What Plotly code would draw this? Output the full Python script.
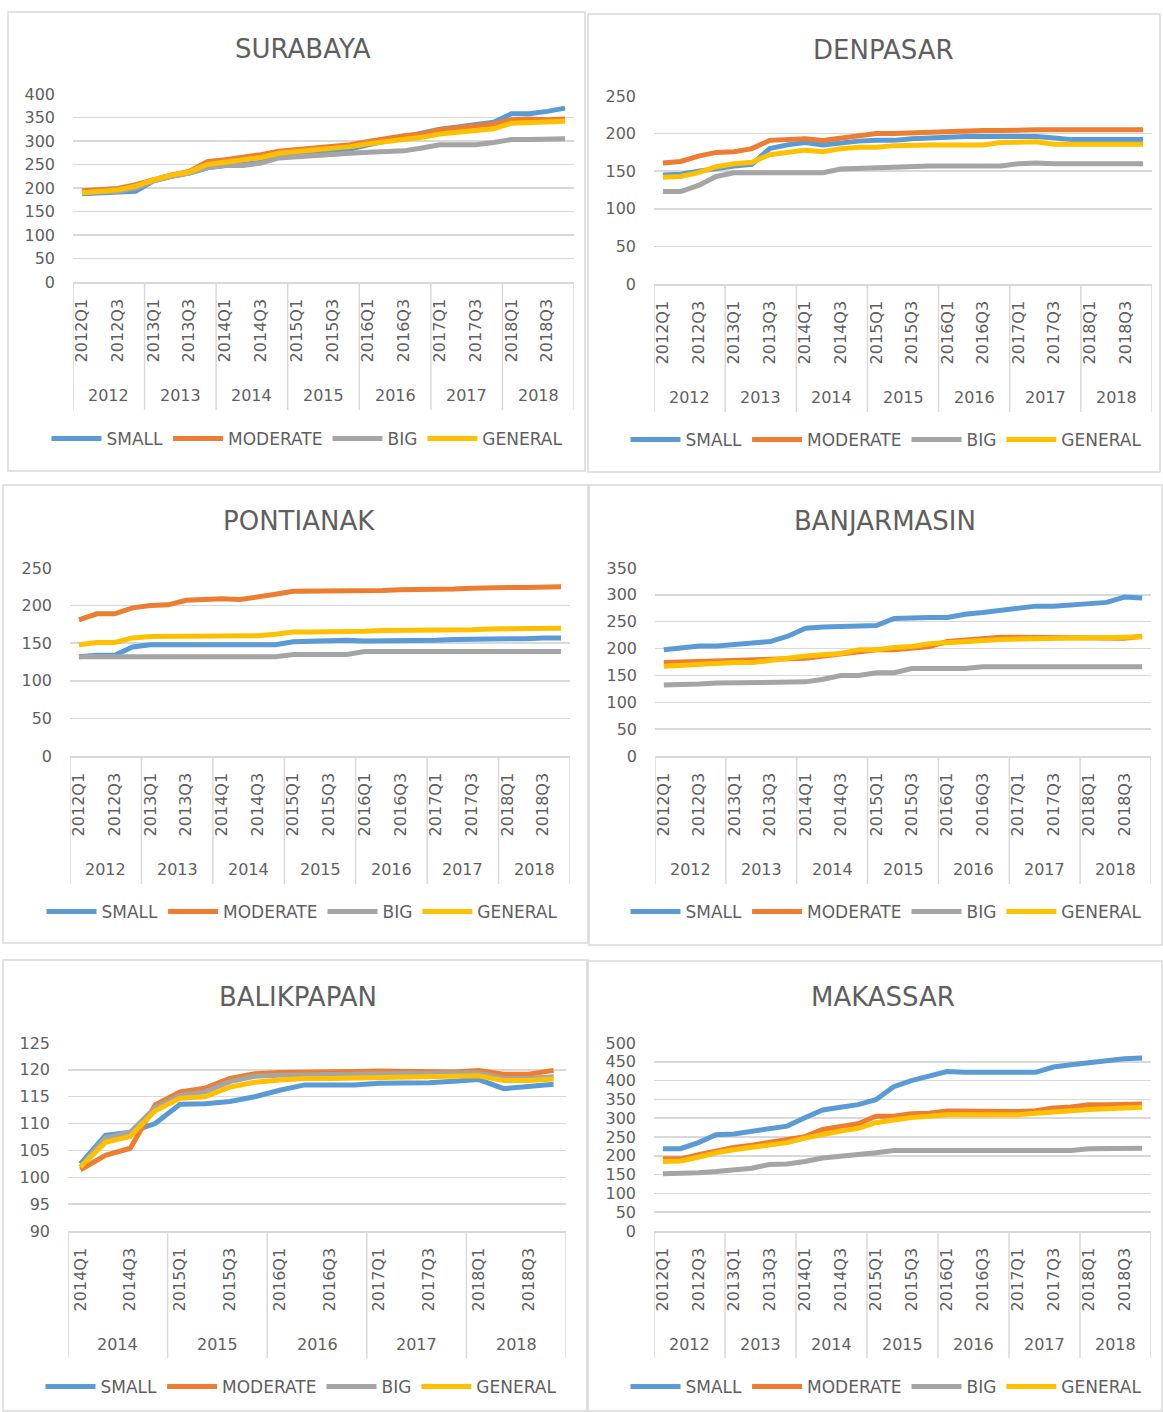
import plotly.graph_objects as go

# ---------------- data ----------------
SERIES = ["SMALL", "MODERATE", "BIG", "GENERAL"]
YEARS_FULL = ["2012", "2013", "2014", "2015", "2016", "2017", "2018"]
YEARS_BPN = ["2014", "2015", "2016", "2017", "2018"]
QUARTERS = ["Q1", "Q2", "Q3", "Q4"]

SURABAYA_SMALL = [188, 190, 190, 193, 215, 225, 232, 243, 248, 250, 255, 266, 270, 272, 278, 283, 292, 300, 307, 315, 325, 330, 336, 340, 358, 358, 363, 370]
SURABAYA_MODERATE = [194, 196, 199, 207, 218, 228, 235, 256, 260, 265, 271, 278, 281, 284, 289, 292, 299, 306, 311, 315, 324, 328, 333, 336, 345, 347, 345, 347]
SURABAYA_BIG = [190, 192, 193, 200, 215, 225, 232, 243, 248, 248, 253, 264, 267, 269, 272, 274, 276, 277, 279, 285, 292, 292, 292, 297, 303, 303, 303, 305]
SURABAYA_GENERAL = [190, 193, 196, 204, 217, 227, 234, 250, 255, 259, 265, 274, 277, 280, 284, 288, 294, 298, 303, 308, 315, 318, 323, 326, 338, 340, 340, 342]

DENPASAR_SMALL = [145, 146, 150, 154, 157, 159, 180, 185, 188, 185, 188, 190, 191, 191, 193, 194, 196, 196, 196, 196, 197, 196, 194, 192, 192, 192, 192, 192]
DENPASAR_MODERATE = [161, 163, 170, 175, 176, 180, 191, 192, 193, 191, 194, 198, 200, 200, 201, 202, 203, 203, 204, 204, 205, 205, 205, 205, 205, 204, 205, 205]
DENPASAR_BIG = [123, 123, 131, 143, 148, 148, 148, 148, 148, 148, 153, 154, 154, 156, 156, 157, 157, 157, 157, 157, 160, 161, 160, 160, 160, 160, 160, 160]
DENPASAR_GENERAL = [142, 143, 148, 156, 160, 162, 172, 175, 178, 176, 180, 182, 182, 184, 185, 185, 185, 185, 185, 188, 189, 189, 186, 186, 186, 186, 186, 186]

PONTIANAK_SMALL = [132, 134, 134, 145, 148, 148, 148, 148, 148, 148, 148, 148, 152, 153, 153, 154, 153, 153, 153, 153, 154, 155, 155, 156, 156, 156, 157, 157]
PONTIANAK_MODERATE = [181, 189, 189, 197, 200, 201, 207, 208, 209, 208, 211, 215, 219, 219, 219, 219, 219, 220, 221, 221, 222, 222, 223, 224, 224, 224, 224, 225]
PONTIANAK_BIG = [132, 132, 132, 132, 132, 132, 132, 132, 132, 132, 132, 132, 135, 135, 135, 135, 139, 139, 139, 139, 139, 139, 139, 139, 139, 139, 139, 139]
PONTIANAK_GENERAL = [148, 151, 151, 157, 159, 159, 160, 160, 160, 160, 160, 162, 165, 165, 165, 165, 166, 167, 167, 167, 168, 168, 168, 169, 169, 169, 170, 170]

BANJARMASIN_SMALL = [198, 201, 205, 205, 208, 210, 213, 223, 238, 240, 241, 242, 243, 256, 258, 258, 258, 264, 267, 271, 273, 279, 279, 281, 283, 286, 296, 294]
BANJARMASIN_MODERATE = [174, 175, 176, 178, 179, 180, 180, 180, 182, 186, 190, 192, 198, 198, 200, 204, 213, 216, 219, 221, 221, 221, 221, 221, 221, 220, 219, 223]
BANJARMASIN_BIG = [132, 132, 134, 136, 136, 136, 136, 136, 138, 143, 150, 150, 155, 155, 163, 163, 163, 163, 166, 166, 166, 166, 166, 166, 166, 166, 166, 166]
BANJARMASIN_GENERAL = [167, 169, 170, 172, 174, 174, 177, 182, 186, 189, 191, 198, 198, 202, 204, 209, 211, 215, 217, 217, 218, 219, 220, 220, 220, 220, 221, 222]

BALIKPAPAN_SMALL = [102.5, 107.8, 108.4, 110.0, 113.6, 113.7, 114.1, 115.0, 116.2, 117.2, 117.2, 117.2, 117.5, 117.5, 117.6, 117.9, 118.2, 116.5, 116.8, 117.3]
BALIKPAPAN_MODERATE = [101.4, 104.1, 105.4, 113.5, 115.9, 116.6, 118.4, 119.3, 119.5, 119.5, 119.6, 119.7, 119.8, 119.8, 119.8, 119.6, 119.9, 119.2, 119.2, 119.9]
BALIKPAPAN_BIG = [101.9, 107.3, 108.4, 113.0, 115.3, 115.9, 117.8, 118.8, 119.0, 119.1, 119.2, 119.3, 119.3, 119.3, 119.3, 119.4, 119.4, 118.4, 118.4, 118.7]
BALIKPAPAN_GENERAL = [101.9, 106.5, 107.6, 112.4, 114.7, 115.0, 116.8, 117.7, 118.1, 118.4, 118.4, 118.5, 118.6, 118.6, 118.7, 118.8, 118.9, 118.0, 118.0, 118.3]

MAKASSAR_SMALL = [219, 219, 235, 256, 258, 264, 272, 279, 301, 322, 329, 336, 349, 384, 400, 412, 424, 422, 421, 421, 422, 422, 436, 442, 449, 453, 458, 460]
MAKASSAR_MODERATE = [192, 192, 203, 214, 222, 228, 236, 241, 251, 270, 278, 285, 305, 305, 312, 313, 319, 318, 318, 318, 318, 320, 327, 330, 336, 336, 338, 338]
MAKASSAR_BIG = [152, 152, 155, 158, 162, 167, 177, 178, 185, 194, 199, 202, 208, 214, 214, 214, 214, 214, 214, 214, 214, 214, 214, 214, 219, 219, 220, 220]
MAKASSAR_GENERAL = [185, 186, 196, 208, 216, 222, 230, 235, 247, 258, 266, 273, 288, 295, 302, 305, 309, 309, 309, 309, 309, 313, 318, 320, 323, 325, 327, 329]

CITIES = ["SURABAYA", "DENPASAR", "PONTIANAK", "BANJARMASIN", "BALIKPAPAN", "MAKASSAR"]
CITY_YEARS = [YEARS_FULL, YEARS_FULL, YEARS_FULL, YEARS_FULL, YEARS_BPN, YEARS_FULL]
CITY_VALUES = [
    [SURABAYA_SMALL, SURABAYA_MODERATE, SURABAYA_BIG, SURABAYA_GENERAL],
    [DENPASAR_SMALL, DENPASAR_MODERATE, DENPASAR_BIG, DENPASAR_GENERAL],
    [PONTIANAK_SMALL, PONTIANAK_MODERATE, PONTIANAK_BIG, PONTIANAK_GENERAL],
    [BANJARMASIN_SMALL, BANJARMASIN_MODERATE, BANJARMASIN_BIG, BANJARMASIN_GENERAL],
    [BALIKPAPAN_SMALL, BALIKPAPAN_MODERATE, BALIKPAPAN_BIG, BALIKPAPAN_GENERAL],
    [MAKASSAR_SMALL, MAKASSAR_MODERATE, MAKASSAR_BIG, MAKASSAR_GENERAL],
]
Y_RANGES = [(0, 400), (0, 250), (0, 250), (0, 350), (90, 125), (0, 500)]
Y_DTICKS = [50, 50, 50, 50, 5, 50]

# ---------------- styles / layout geometry (pixels) ----------------
W, H = 1163, 1412
COLORS = ["#5B9BD5", "#ED7D31", "#A5A5A5", "#FFC000"]
TEXT = "#5f5f5f"
GRID = "#D9D9D9"
FONT = "DejaVu Sans"

PANELS = [
    dict(x0=73, x1=574, yt=94, yb=282, div=410, yl=396, tx=303, ty=49, lx=307, ly=439, box=(8, 12, 585, 471)),
    dict(x0=654, x1=1152, yt=96, yb=284, div=412, yl=397, tx=883, ty=50, lx=886, ly=440, box=(588, 14, 1160, 472)),
    dict(x0=70, x1=570, yt=568, yb=756, div=884, yl=869, tx=299, ty=521, lx=302, ly=912, box=(3, 485, 588, 943)),
    dict(x0=655, x1=1151, yt=568, yb=756, div=884, yl=869, tx=885, ty=521, lx=886, ly=912, box=(589, 485, 1162, 945)),
    dict(x0=68, x1=566, yt=1043, yb=1231, div=1358, yl=1344, tx=298, ty=997, lx=301, ly=1387, box=(3, 960, 588, 1411)),
    dict(x0=654, x1=1151, yt=1043, yb=1231, div=1358, yl=1344, tx=883, ty=997, lx=886, ly=1387, box=(587, 961, 1162, 1411)),
]


def fx(px):
    return px / W


def fy(py):
    return 1 - py / H


fig = go.Figure()
layout = dict(
    width=W, height=H, margin=dict(l=0, r=0, t=0, b=0, pad=0, autoexpand=False),
    paper_bgcolor="white", plot_bgcolor="white",
    font=dict(family=FONT, color=TEXT, size=16),
    showlegend=True,
)
shapes = []
annotations = []

for i, (city, years, values, yr, dt, p) in enumerate(zip(CITIES, CITY_YEARS, CITY_VALUES, Y_RANGES, Y_DTICKS, PANELS)):
    n = i + 1
    xa = "x" if n == 1 else f"x{n}"
    ya = "y" if n == 1 else f"y{n}"
    lg = "legend" if n == 1 else f"legend{n}"
    cats = [y + q for y in years for q in QUARTERS]
    for s, vals, col in zip(SERIES, values, COLORS):
        fig.add_trace(go.Scatter(
            x=cats, y=vals, name=s, mode="lines",
            line=dict(color=col, width=5),
            xaxis=xa, yaxis=ya, legend=lg, hoverinfo="skip",
        ))
    ticks = [c for c in cats if c.endswith("Q1") or c.endswith("Q3")]
    layout["xaxis" if n == 1 else f"xaxis{n}"] = dict(
        domain=[fx(p["x0"]), fx(p["x1"])], anchor=ya, type="category",
        categoryorder="array", categoryarray=cats, range=[-0.5, len(cats) - 0.5],
        tickmode="array", tickvals=ticks, ticktext=ticks, tickangle=-90,
        tickfont=dict(size=16, color=TEXT, family=FONT), ticks="",
        showgrid=False, showline=True, linecolor=GRID, linewidth=1.5,
        ticklabelstandoff=9, fixedrange=True, automargin=False,
    )
    layout["yaxis" if n == 1 else f"yaxis{n}"] = dict(
        domain=[fy(p["yb"]), fy(p["yt"])], anchor=xa, range=list(yr), dtick=dt,
        tick0=yr[0], showgrid=True, gridcolor=GRID, gridwidth=1.5, zeroline=False,
        showline=False, ticks="", tickfont=dict(size=16, color=TEXT, family=FONT),
        ticklabelstandoff=17, fixedrange=True, automargin=False,
    )
    layout[lg] = dict(
        orientation="h", x=fx(p["lx"]), y=fy(p["ly"]), xanchor="center", yanchor="middle",
        font=dict(size=17, color=TEXT, family=FONT), bgcolor="rgba(0,0,0,0)",
        itemclick=False, itemdoubleclick=False, tracegroupgap=0, itemwidth=50,
    )
    for k in range(len(years) + 1):
        shapes.append(dict(
            type="line", xref=xa, yref="paper", x0=k * 4 - 0.5, x1=k * 4 - 0.5,
            y0=fy(p["yb"]), y1=fy(p["div"]), line=dict(color=GRID, width=1.5),
        ))
    for k, y in enumerate(years):
        annotations.append(dict(
            text=y, xref=xa, yref="paper", x=k * 4 + 1.5, y=fy(p["yl"]),
            showarrow=False, xanchor="center", yanchor="middle",
            font=dict(size=16, color=TEXT, family=FONT),
        ))
    annotations.append(dict(
        text=city, xref="paper", yref="paper", x=fx(p["tx"]), y=fy(p["ty"]),
        showarrow=False, xanchor="center", yanchor="middle",
        font=dict(size=26, color=TEXT, family=FONT),
    ))
    bx0, by0, bx1, by1 = p["box"]
    shapes.append(dict(
        type="rect", xref="paper", yref="paper", x0=fx(bx0), x1=fx(bx1),
        y0=fy(by1), y1=fy(by0), line=dict(color=GRID, width=1.5), layer="below",
    ))

layout["shapes"] = shapes
layout["annotations"] = annotations
fig.update_layout(**layout)
fig.write_html(
    "out.html",
    config={"displayModeBar": False, "staticPlot": True},
    post_script="document.body.style.margin='0px';document.body.style.overflow='hidden';",
)
